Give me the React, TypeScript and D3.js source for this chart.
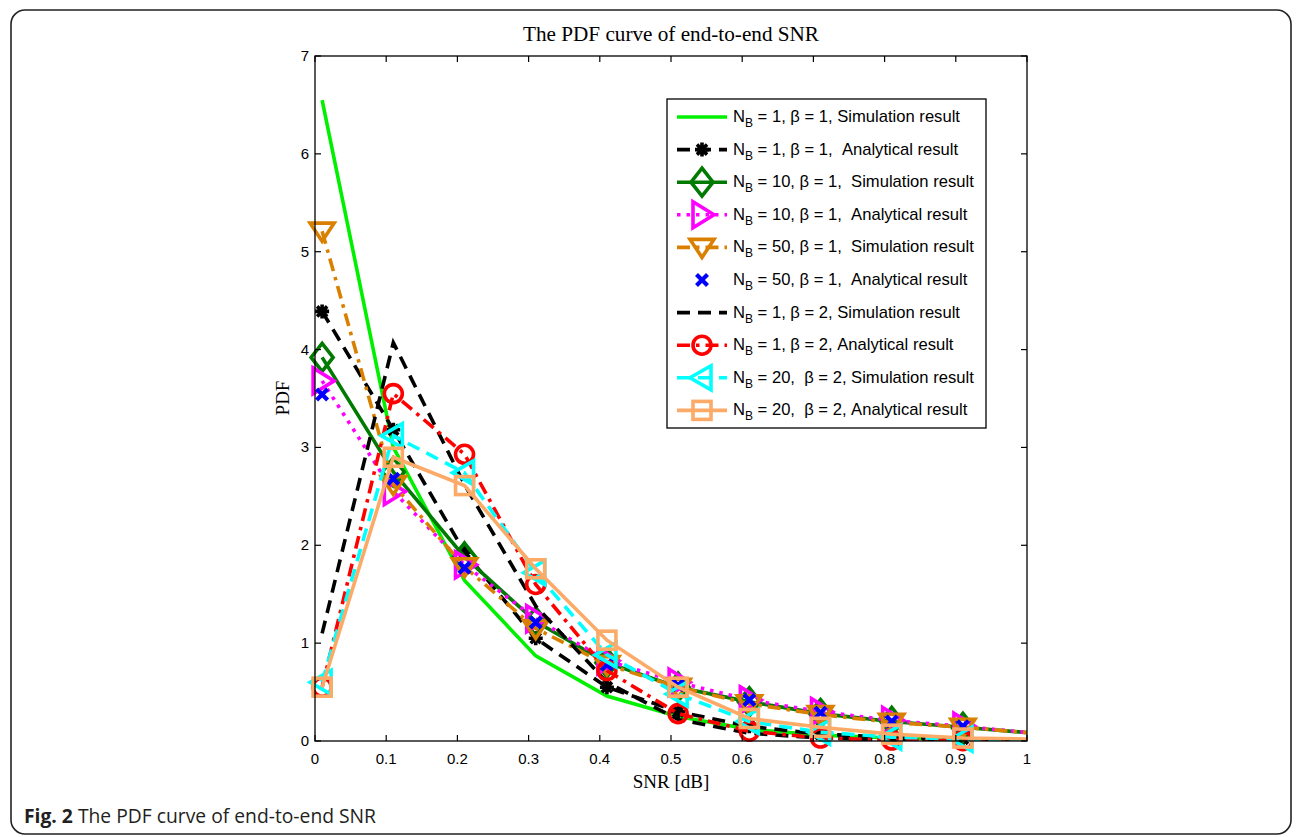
import React from 'react';
import * as d3 from 'd3';

// ---- data ----
const snr = [0.01, 0.11, 0.21, 0.31, 0.41, 0.51, 0.61, 0.71, 0.81, 0.91, 1.01];
const xTicks = [0, 0.1, 0.2, 0.3, 0.4, 0.5, 0.6, 0.7, 0.8, 0.9, 1];
const xTickLabels = ['0', '0.1', '0.2', '0.3', '0.4', '0.5', '0.6', '0.7', '0.8', '0.9', '1'];
const yTicks = [0, 1, 2, 3, 4, 5, 6, 7];

const simNB1b1 = [6.55, 3.0, 1.64, 0.87, 0.46, 0.25, 0.12, 0.06, 0.03, 0.02, 0.01];
const anaNB1b1 = [4.39, 3.18, 1.93, 1.05, 0.55, 0.3, 0.15, 0.07, 0.04, 0.02, 0.01];
const simNB10b1 = [3.92, 2.75, 1.88, 1.22, 0.8, 0.55, 0.4, 0.28, 0.2, 0.14, 0.08];
const anaNB10b1 = [3.68, 2.55, 1.8, 1.25, 0.82, 0.6, 0.42, 0.3, 0.21, 0.15, 0.08];
const simNB50b1 = [5.21, 2.62, 1.78, 1.15, 0.78, 0.55, 0.38, 0.27, 0.19, 0.14, 0.08];
const anaNB50b1 = [3.54, 2.68, 1.77, 1.21, 0.78, 0.57, 0.42, 0.29, 0.2, 0.15, 0.09];
const simNB1b2 = [1.1, 4.07, 2.62, 1.38, 0.6, 0.22, 0.08, 0.03, 0.01, 0.005, 0.002];
const anaNB1b2 = [0.55, 3.55, 2.93, 1.6, 0.72, 0.28, 0.1, 0.03, 0.01, 0.003, 0.001];
const simNB20b2 = [0.6, 3.12, 2.74, 1.72, 0.88, 0.48, 0.2, 0.09, 0.04, 0.02, 0.01];
const anaNB20b2 = [0.55, 2.9, 2.61, 1.76, 1.03, 0.55, 0.23, 0.14, 0.07, 0.03, 0.02];

const legendRest = [
  ' = 1, \u03b2 = 1, Simulation result',
  ' = 1, \u03b2 = 1,  Analytical result',
  ' = 10, \u03b2 = 1,  Simulation result',
  ' = 10, \u03b2 = 1,  Analytical result',
  ' = 50, \u03b2 = 1,  Simulation result',
  ' = 50, \u03b2 = 1,  Analytical result',
  ' = 1, \u03b2 = 2, Simulation result',
  ' = 1, \u03b2 = 2, Analytical result',
  ' = 20,  \u03b2 = 2, Simulation result',
  ' = 20,  \u03b2 = 2, Analytical result',
];

type Marker = 'none' | 'star' | 'diamond' | 'tri-right' | 'tri-down' | 'x' | 'circle' | 'tri-left' | 'square';

const series: { values: number[]; color: string; dash: string | null; marker: Marker }[] = [
  { values: simNB1b1, color: '#00f000', dash: '', marker: 'none' },
  { values: anaNB1b1, color: '#000000', dash: '13,8', marker: 'star' },
  { values: simNB10b1, color: '#007a00', dash: '', marker: 'diamond' },
  { values: anaNB10b1, color: '#ff00ff', dash: '3.5,6', marker: 'tri-right' },
  { values: simNB50b1, color: '#d98000', dash: '13,6,3.5,6', marker: 'tri-down' },
  { values: anaNB50b1, color: '#0000ff', dash: null, marker: 'x' },
  { values: simNB1b2, color: '#000000', dash: '13,8', marker: 'none' },
  { values: anaNB1b2, color: '#ff0000', dash: '13,6,3.5,6', marker: 'circle' },
  { values: simNB20b2, color: '#00ffff', dash: '13,8', marker: 'tri-left' },
  { values: anaNB20b2, color: '#fcaa68', dash: '', marker: 'square' },
];

const W = 1296;
const H = 837;
const X0 = 315, X1 = 1027, Y0 = 741, Y1 = 56;
const LW = 3.6;

function MarkerShape({ type, cx, cy, color }: { type: Marker; cx: number; cy: number; color: string }) {
  const sw = 3.6;
  const common = { fill: 'none', stroke: color, strokeWidth: sw, strokeLinejoin: 'miter' as const };
  switch (type) {
    case 'star': {
      const r = 7;
      const d = r * 0.72;
      return (
        <path
          d={`M${cx - r},${cy}L${cx + r},${cy}M${cx},${cy - r}L${cx},${cy + r}M${cx - d},${cy - d}L${cx + d},${cy + d}M${cx - d},${cy + d}L${cx + d},${cy - d}`}
          stroke={color}
          strokeWidth={3.6}
          fill="none"
        />
      );
    }
    case 'diamond':
      return <path d={`M${cx},${cy - 14}L${cx + 11},${cy}L${cx},${cy + 14}L${cx - 11},${cy}Z`} {...common} />;
    case 'tri-right':
      return <path d={`M${cx - 9},${cy - 13}L${cx + 12},${cy}L${cx - 9},${cy + 13}Z`} {...common} />;
    case 'tri-left':
      return <path d={`M${cx + 9},${cy - 12}L${cx - 12},${cy}L${cx + 9},${cy + 12}Z`} {...common} />;
    case 'tri-down':
      return <path d={`M${cx - 12},${cy - 8}L${cx + 12},${cy - 8}L${cx},${cy + 10}Z`} {...common} />;
    case 'x': {
      const r = 5.5;
      return (
        <path
          d={`M${cx - r},${cy - r}L${cx + r},${cy + r}M${cx - r},${cy + r}L${cx + r},${cy - r}`}
          stroke={color}
          strokeWidth={4.2}
          fill="none"
        />
      );
    }
    case 'circle':
      return <circle cx={cx} cy={cy} r={9} {...common} />;
    case 'square':
      return <rect x={cx - 9} y={cy - 9} width={18} height={18} {...common} />;
    default:
      return null;
  }
}

export default function App() {
  const x = d3.scaleLinear().domain([0, 1]).range([X0, X1]);
  const y = d3.scaleLinear().domain([0, 7]).range([Y0, Y1]);
  const line = d3
    .line<number>()
    .x((_, i) => x(snr[i]))
    .y((d) => y(d));

  const legX0 = 667, legY0 = 99, legX1 = 986, legY1 = 428;
  const rowY = (i: number) => 117 + i * 32.6;

  const tickLen = 6;

  return (
    <svg
      width={W}
      height={H}
      viewBox={`0 0 ${W} ${H}`}
      style={{ position: 'absolute', left: 0, top: 0, background: '#fff' }}
    >
      <defs>
        <clipPath id="plotClip">
          <rect x={X0} y={Y1} width={X1 - X0} height={Y0 - Y1} />
        </clipPath>
      </defs>
      {/* outer frame */}
      <rect x={11} y={10} width={1280} height={824} rx={14} ry={14} fill="none" stroke="#222" strokeWidth={1.6} />

      {/* title */}
      <text
        x={671}
        y={41}
        textAnchor="middle"
        fontFamily="'Liberation Serif', 'Times New Roman', serif"
        fontSize={20}
        textLength={296}
        lengthAdjust="spacingAndGlyphs"
        fill="#000"
      >
        The PDF curve of end-to-end SNR
      </text>

      {/* series */}
      {series.map((s, si) => (
        <g key={si}>
          {s.dash !== null && (
            <path
              d={line(s.values) || ''}
              fill="none"
              stroke={s.color}
              strokeWidth={LW}
              strokeDasharray={s.dash || undefined}
              clipPath="url(#plotClip)"
            />
          )}
          {s.values.map((v, i) =>
            snr[i] <= 1 ? <MarkerShape key={i} type={s.marker} cx={x(snr[i])} cy={y(v)} color={s.color} /> : null
          )}
        </g>
      ))}

      {/* axes box */}
      <rect x={X0} y={Y1} width={X1 - X0} height={Y0 - Y1} fill="none" stroke="#000" strokeWidth={1.3} />
      {xTicks.map((t, i) => (
        <g key={'xt' + i}>
          <line x1={x(t)} x2={x(t)} y1={Y0} y2={Y0 - tickLen} stroke="#000" strokeWidth={1.2} />
          <line x1={x(t)} x2={x(t)} y1={Y1} y2={Y1 + tickLen} stroke="#000" strokeWidth={1.2} />
          <text
            x={x(t)}
            y={764}
            textAnchor="middle"
            fontFamily="'Liberation Sans', Arial, sans-serif"
            fontSize={15}
            fill="#000"
          >
            {xTickLabels[i]}
          </text>
        </g>
      ))}
      {yTicks.map((t) => (
        <g key={'yt' + t}>
          <line x1={X0} x2={X0 + tickLen} y1={y(t)} y2={y(t)} stroke="#000" strokeWidth={1.2} />
          <line x1={X1} x2={X1 - tickLen} y1={y(t)} y2={y(t)} stroke="#000" strokeWidth={1.2} />
          <text
            x={309}
            y={y(t) + 5}
            textAnchor="end"
            fontFamily="'Liberation Sans', Arial, sans-serif"
            fontSize={15}
            fill="#000"
          >
            {t}
          </text>
        </g>
      ))}

      {/* axis labels */}
      <text
        x={671}
        y={788}
        textAnchor="middle"
        fontFamily="'Liberation Serif', 'Times New Roman', serif"
        fontSize={19}
        fill="#000"
      >
        SNR [dB]
      </text>
      <text
        transform={`translate(289,398) rotate(-90)`}
        textAnchor="middle"
        fontFamily="'Liberation Serif', 'Times New Roman', serif"
        fontSize={19}
        fill="#000"
      >
        PDF
      </text>

      {/* legend */}
      <rect x={legX0} y={legY0} width={legX1 - legX0} height={legY1 - legY0} fill="#fff" stroke="#000" strokeWidth={1.3} />
      {series.map((s, i) => (
        <g key={'lg' + i}>
          {s.dash !== null && (
            <line
              x1={677}
              x2={727}
              y1={rowY(i)}
              y2={rowY(i)}
              stroke={s.color}
              strokeWidth={LW}
              strokeDasharray={s.dash || undefined}
            />
          )}
          <MarkerShape type={s.marker} cx={702} cy={rowY(i)} color={s.color} />
          <text
            x={733}
            y={rowY(i) + 5}
            fontFamily="'Liberation Sans', Arial, sans-serif"
            fontSize={16.6}
            fill="#000"
            style={{ whiteSpace: 'pre' }}
          >
            <tspan>N</tspan>
            <tspan fontSize={12} dy={5}>B</tspan>
            <tspan dy={-5}>{legendRest[i]}</tspan>
          </text>
        </g>
      ))}

      {/* caption */}
      <text x={24} y={823} fontFamily="'Open Sans', 'Noto Sans', sans-serif" fontSize={19.3} fill="#231f20" style={{ whiteSpace: 'pre' }}>
        <tspan fontWeight="bold">Fig. 2</tspan>
        <tspan> The PDF curve of end-to-end SNR</tspan>
      </text>
    </svg>
  );
}
